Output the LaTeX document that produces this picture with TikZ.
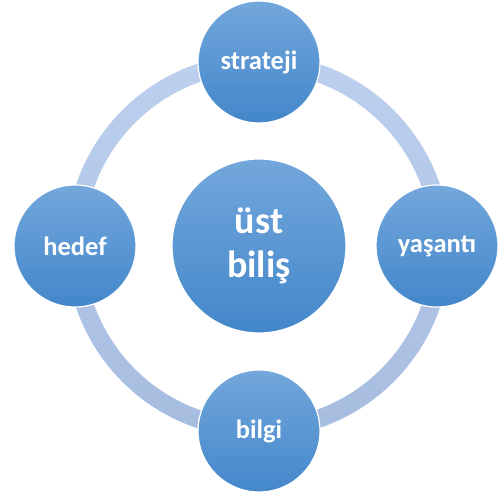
\documentclass[tikz,border=0pt]{standalone}
\usepackage{fontspec}
\setmainfont{Carlito}
\definecolor{ringtop}{HTML}{BDD0EE}
\definecolor{ringbot}{HTML}{A6BCDF}
\definecolor{balltop}{HTML}{73A7DC}
\definecolor{ballbot}{HTML}{4387CA}
\tikzset{
  ball/.style={circle, minimum size=#1, inner sep=0pt, top color=balltop, bottom color=ballbot, draw=white, line width=1.2pt, text=white, font=\bfseries},
  smalltext/.style={font=\bfseries\fontsize{26.5}{30}\selectfont},
  bigtext/.style={font=\bfseries\fontsize{38}{44}\selectfont, align=center}
}
\begin{document}
\begin{tikzpicture}[x=1pt,y=1pt]
\useasboundingbox (0,0) rectangle (500,498);
\coordinate (c) at (258,252);
\shade[top color=ringtop, bottom color=ringbot, even odd rule] (c) circle (192) (c) circle (174);
\node[ball=122pt, smalltext] (strateji) at (259,436) {strateji};
\node[ball=122pt, smalltext] (hedef) at (75,252) {hedef};
\node[ball=122pt, smalltext] (yasanti) at (437,252) {yaşantı};
\node[ball=122pt, smalltext] (bilgi) at (259,67) {bilgi};
\node[ball=174pt, bigtext] (ust) at (259,252) {üst\\biliş};
\end{tikzpicture}
\end{document}
